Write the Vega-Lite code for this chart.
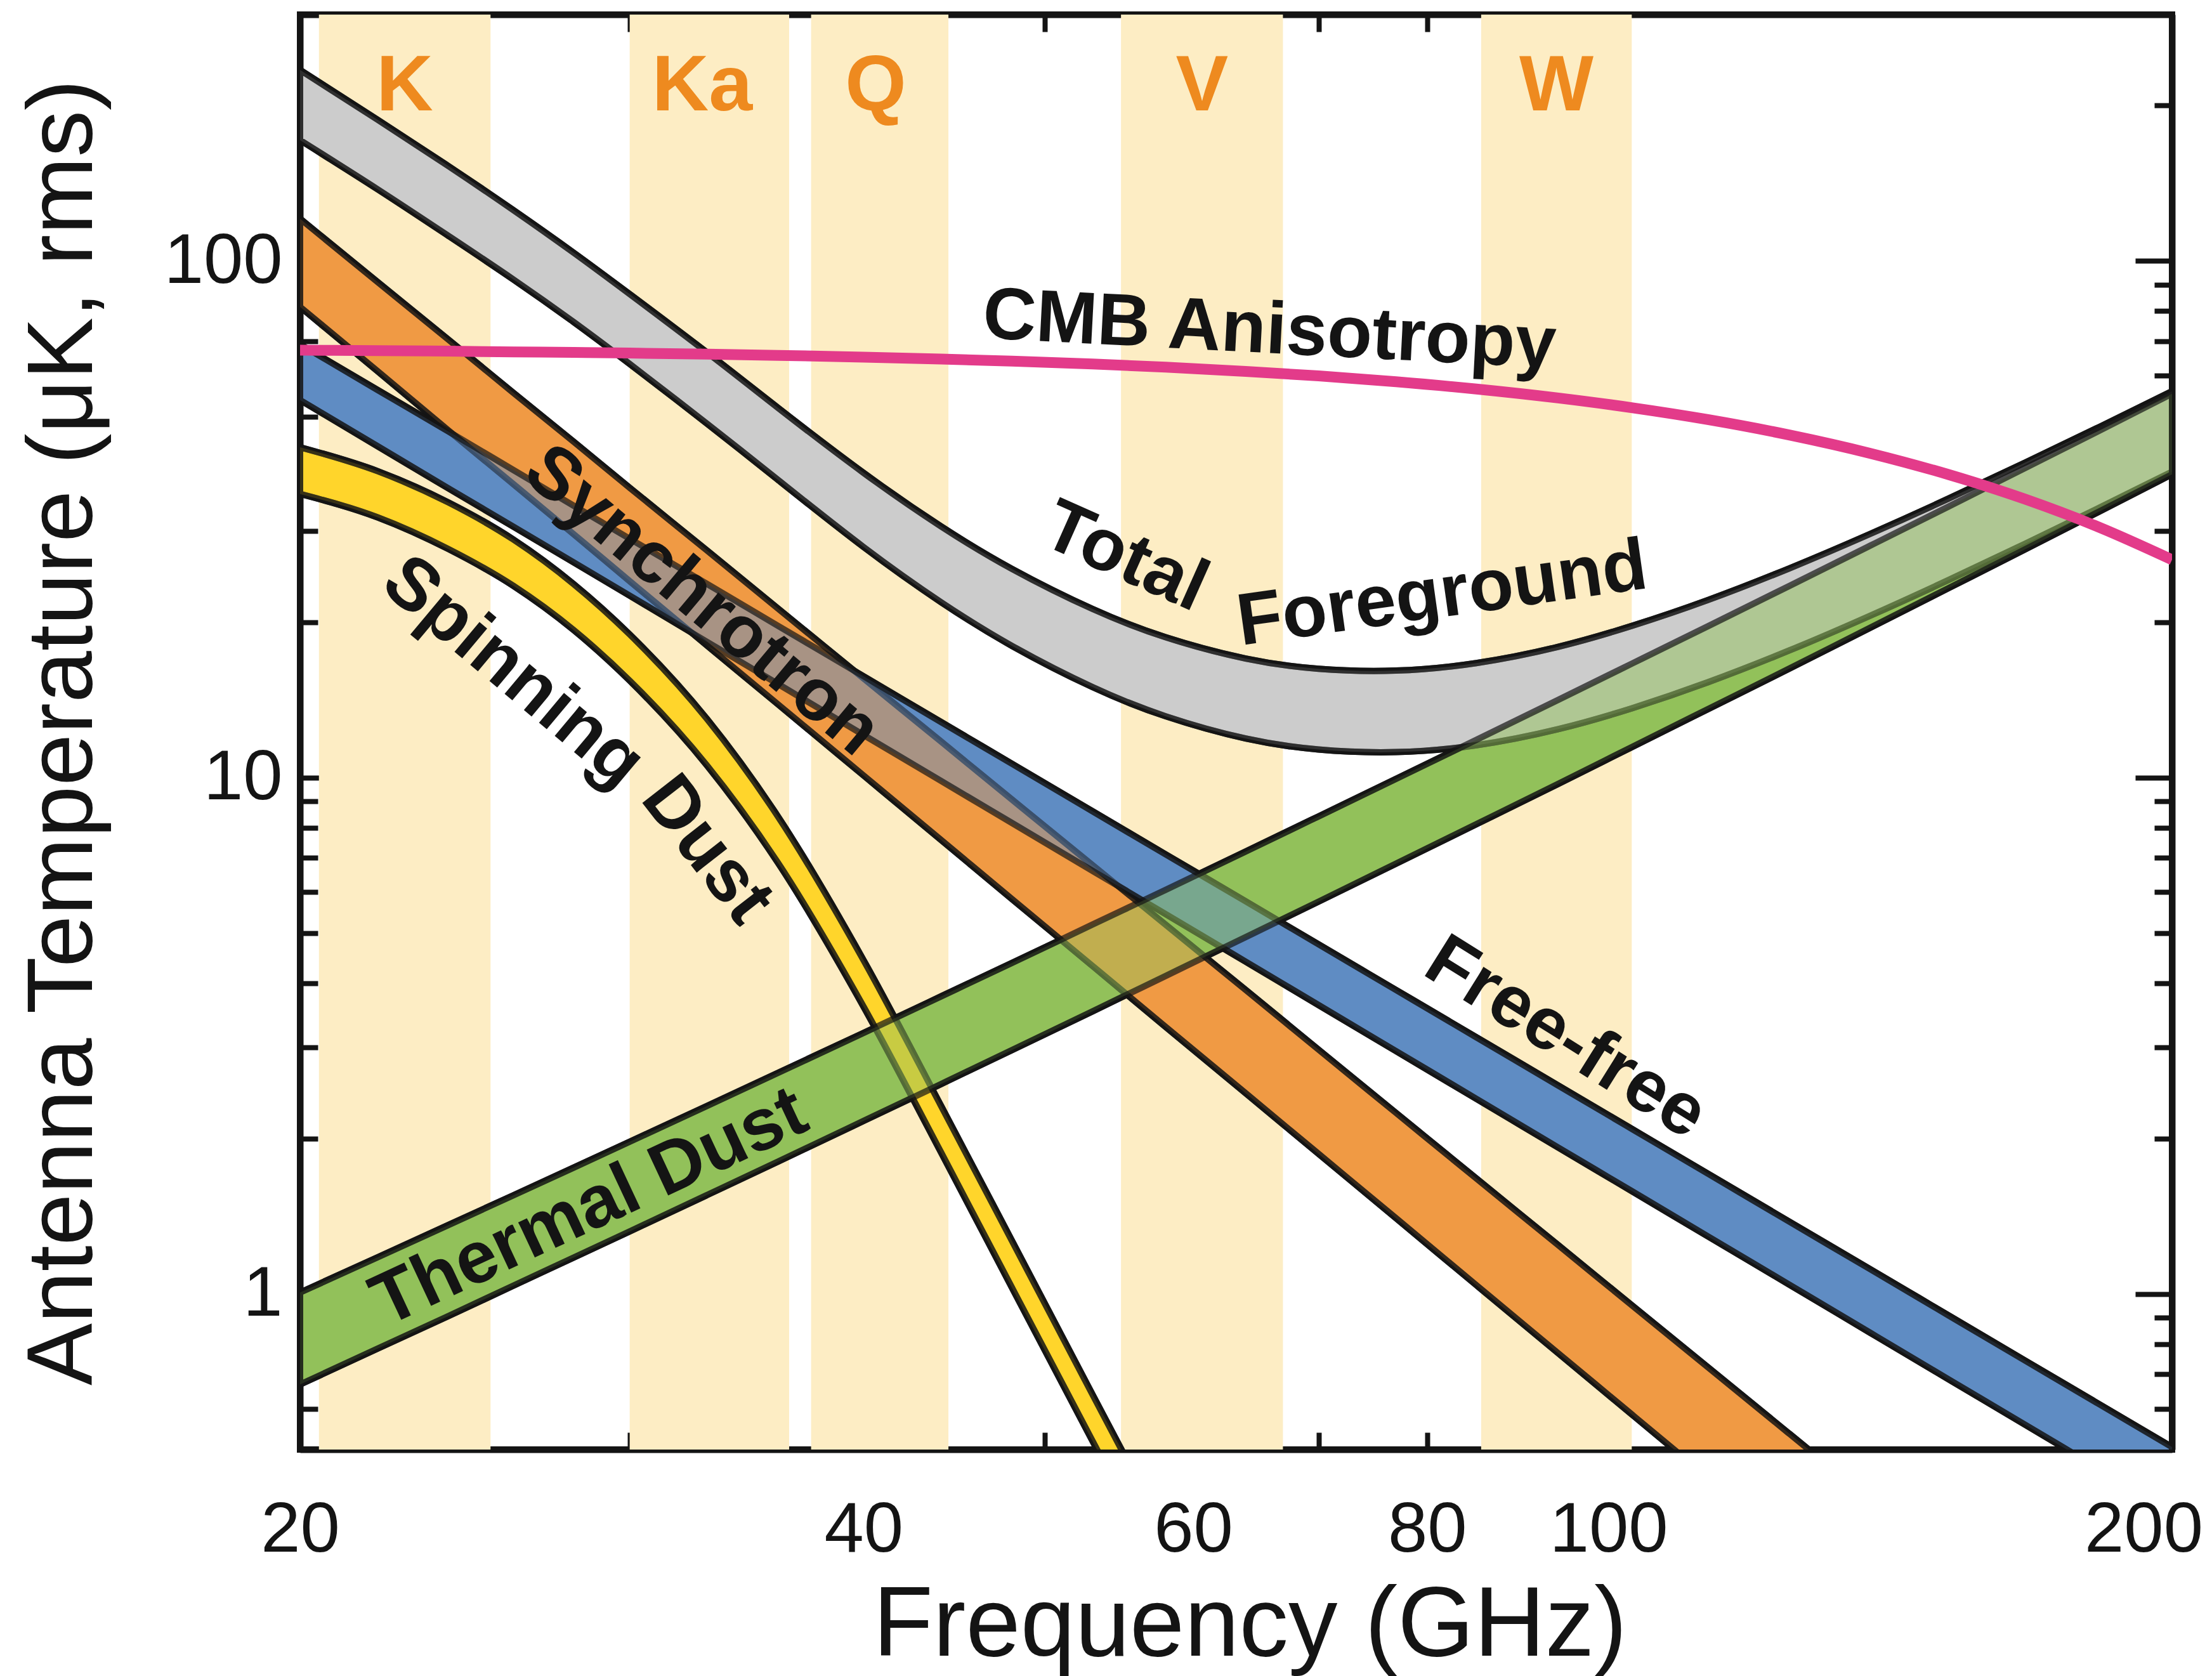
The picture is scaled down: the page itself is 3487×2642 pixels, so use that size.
{
  "$schema": "https://vega.github.io/schema/vega-lite/v6.json",
  "autosize": {"type": "none"},
  "width": 2951,
  "height": 2262,
  "padding": {"left": 473, "top": 23, "right": 63, "bottom": 357},
  "background": "white",
  "config": {
    "font": "Liberation Sans",
    "view": {"stroke": "#141414", "strokeWidth": 10},
    "axis": {
      "zindex": 1,
      "grid": false,
      "domainColor": "#141414",
      "domainWidth": 10,
      "tickColor": "#141414",
      "tickWidth": 8,
      "labelFont": "Liberation Sans",
      "labelFontSize": 112,
      "labelColor": "#141414",
      "labelOverlap": false,
      "labelFlush": false,
      "labelBound": false,
      "labelLimit": 2000,
      "titleFont": "Liberation Sans",
      "titleFontSize": 155,
      "titleFontWeight": "normal",
      "titleColor": "#141414",
      "titleLimit": 5000
    }
  },
  "datasets": {
    "curves": [
      {"f":20,"td_lo":0.668,"td_hi":1.007,"ff_lo":53.8,"ff_hi":69.0,"syn_lo":81.5,"syn_hi":120.8,"sd_lo":35.4,"sd_hi":43.6,"tot_lo":171.4,"tot_hi":234.4,"cmb":67.2},
      {"f":22,"td_lo":0.784,"td_hi":1.178,"ff_lo":43.8,"ff_hi":56.3,"syn_lo":61.2,"syn_hi":91.1,"sd_lo":31.9,"sd_hi":39.2,"tot_lo":137.7,"tot_hi":187.8,"cmb":67.06},
      {"f":24,"td_lo":0.906,"td_hi":1.36,"ff_lo":36.3,"ff_hi":46.8,"syn_lo":47.0,"syn_hi":70.5,"sd_lo":27.7,"sd_hi":34.1,"tot_lo":111.9,"tot_hi":152.8,"cmb":66.9},
      {"f":26,"td_lo":1.038,"td_hi":1.553,"ff_lo":30.6,"ff_hi":39.4,"syn_lo":37.0,"syn_hi":55.6,"sd_lo":23.5,"sd_hi":28.9,"tot_lo":92.1,"tot_hi":125.5,"cmb":66.7},
      {"f":28,"td_lo":1.176,"td_hi":1.757,"ff_lo":26.1,"ff_hi":33.6,"syn_lo":29.6,"syn_hi":44.7,"sd_lo":19.3,"sd_hi":23.7,"tot_lo":76.2,"tot_hi":103.8,"cmb":66.54},
      {"f":30,"td_lo":1.322,"td_hi":1.972,"ff_lo":22.5,"ff_hi":29.0,"syn_lo":24.0,"syn_hi":36.4,"sd_lo":15.4,"sd_hi":18.93,"tot_lo":63.2,"tot_hi":86.3,"cmb":66.34},
      {"f":33,"td_lo":1.555,"td_hi":2.314,"ff_lo":18.3,"ff_hi":23.7,"syn_lo":18.0,"syn_hi":27.5,"sd_lo":10.54,"sd_hi":12.97,"tot_lo":48.4,"tot_hi":66.5,"cmb":66.02},
      {"f":36,"td_lo":1.804,"td_hi":2.68,"ff_lo":15.18,"ff_hi":19.67,"syn_lo":13.86,"syn_hi":21.25,"sd_lo":6.84,"sd_hi":8.41,"tot_lo":37.7,"tot_hi":52.0,"cmb":65.67},
      {"f":40,"td_lo":2.163,"td_hi":3.204,"ff_lo":12.09,"ff_hi":15.71,"syn_lo":10.09,"syn_hi":15.56,"sd_lo":3.6,"sd_hi":4.43,"tot_lo":27.94,"tot_hi":38.9,"cmb":65.16},
      {"f":44,"td_lo":2.55,"td_hi":3.77,"ff_lo":9.85,"ff_hi":12.81,"syn_lo":7.57,"syn_hi":11.74,"sd_lo":1.88,"sd_hi":2.315,"tot_lo":21.85,"tot_hi":30.64,"cmb":64.6},
      {"f":48,"td_lo":2.965,"td_hi":4.375,"ff_lo":8.17,"ff_hi":10.64,"syn_lo":5.82,"syn_hi":9.07,"sd_lo":1.03,"sd_hi":1.27,"tot_lo":17.99,"tot_hi":25.36,"cmb":64.0},
      {"f":53,"td_lo":3.525,"td_hi":5.19,"ff_lo":6.6,"ff_hi":8.61,"syn_lo":4.32,"syn_hi":6.77,"sd_lo":0.52,"sd_hi":0.64,"tot_lo":14.97,"tot_hi":21.21,"cmb":63.18},
      {"f":58,"td_lo":4.13,"td_hi":6.06,"ff_lo":5.44,"ff_hi":7.1,"syn_lo":3.29,"syn_hi":5.19,"sd_lo":0.28,"sd_hi":0.344,"tot_lo":13.14,"tot_hi":18.69,"cmb":62.29},
      {"f":64,"td_lo":4.91,"td_hi":7.19,"ff_lo":4.4,"ff_hi":5.76,"syn_lo":2.447,"syn_hi":3.88,"sd_lo":0.141,"sd_hi":0.174,"tot_lo":11.9,"tot_hi":17.0,"cmb":61.15},
      {"f":70,"td_lo":5.75,"td_hi":8.41,"ff_lo":3.626,"ff_hi":4.755,"syn_lo":1.868,"syn_hi":2.974,"sd_lo":0.076,"sd_hi":0.094,"tot_lo":11.33,"tot_hi":16.24,"cmb":59.92},
      {"f":77,"td_lo":6.81,"td_hi":9.94,"ff_lo":2.953,"ff_hi":3.88,"syn_lo":1.402,"syn_hi":2.243,"tot_lo":11.2,"tot_hi":16.11,"cmb":58.38},
      {"f":85,"td_lo":8.12,"td_hi":11.83,"ff_lo":2.387,"ff_hi":3.142,"syn_lo":1.04,"syn_hi":1.674,"tot_lo":11.55,"tot_hi":16.66,"cmb":56.52},
      {"f":94,"td_lo":9.72,"td_hi":14.14,"ff_lo":1.921,"ff_hi":2.534,"syn_lo":0.768,"syn_hi":1.244,"tot_lo":12.41,"tot_hi":17.91,"cmb":54.3},
      {"f":103,"td_lo":11.47,"td_hi":16.64,"ff_lo":1.579,"ff_hi":2.085,"syn_lo":0.583,"syn_hi":0.949,"tot_lo":13.63,"tot_hi":19.68,"cmb":51.98},
      {"f":113,"td_lo":13.56,"td_hi":19.63,"ff_lo":1.293,"ff_hi":1.711,"syn_lo":0.441,"syn_hi":0.722,"tot_lo":15.29,"tot_hi":22.06,"cmb":49.32},
      {"f":125,"td_lo":16.27,"td_hi":23.52,"ff_lo":1.041,"ff_hi":1.379,"syn_lo":0.3255,"syn_hi":0.5356,"tot_lo":17.64,"tot_hi":25.44,"cmb":46.03},
      {"f":138,"td_lo":19.5,"td_hi":28.12,"ff_lo":0.841,"ff_hi":1.117,"syn_lo":0.2415,"syn_hi":0.3995,"tot_lo":20.58,"tot_hi":29.64,"cmb":42.43},
      {"f":152,"td_lo":23.28,"td_hi":33.5,"ff_lo":0.683,"ff_hi":0.9085,"syn_lo":0.1805,"syn_hi":0.3003,"tot_lo":24.14,"tot_hi":34.71,"cmb":38.58},
      {"f":167,"td_lo":27.67,"td_hi":39.78,"ff_lo":0.558,"ff_hi":0.743,"syn_lo":0.1359,"syn_hi":0.2274,"tot_lo":28.37,"tot_hi":40.75,"cmb":34.57},
      {"f":183,"td_lo":32.77,"td_hi":46.99,"ff_lo":0.458,"ff_hi":0.6112,"syn_lo":0.1032,"syn_hi":0.1734,"tot_lo":33.33,"tot_hi":47.77,"cmb":30.48},
      {"f":200,"td_lo":38.64,"td_hi":55.34,"ff_lo":0.3784,"ff_hi":0.5056,"syn_lo":0.0789,"syn_hi":0.1334,"tot_lo":39.1,"tot_hi":55.98,"cmb":26.41}
    ],
    "bands": [
      {"band":"K","f0":20.47,"f1":25.28,"fc":22.75},
      {"band":"Ka","f0":30.0,"f1":36.5,"fc":32.8},
      {"band":"Q","f0":37.5,"f1":44.4,"fc":40.6},
      {"band":"V","f0":54.9,"f1":67.0,"fc":60.65},
      {"band":"W","f0":85.5,"f1":102.9,"fc":93.8}
    ],
    "labels": [
      {"id":"cmb","text":"CMB Anisotropy","f":65.9,"t":73.3},
      {"id":"total","text":"Total","f":55.2,"t":26.7},
      {"id":"fg","text":"Foreground","f":81.5,"t":22.6},
      {"id":"syn","text":"Synchrotron","f":32.8,"t":22.0},
      {"id":"spin","text":"Spinning","f":26.0,"t":16.0},
      {"id":"spindust","text":"Dust","f":33.0,"t":7.24},
      {"id":"ff","text":"Free-free","f":94.9,"t":3.13},
      {"id":"td","text":"Thermal Dust","f":28.55,"t":1.47}
    ]
  },
  "resolve": {"axis": {"x": "independent", "y": "independent"}},
  "layer": [
    {
      "data": {"name": "bands"},
      "mark": {"type": "rect", "fill": "#FDEDC4"},
      "encoding": {
        "x": {"field": "f0", "type": "quantitative", "scale": {"type": "log", "domain": [20, 200], "nice": false}, "axis": null},
        "x2": {"field": "f1"}
      }
    },
    {
      "data": {"name": "curves"},
      "mark": {"type": "area", "clip": true, "interpolate": "monotone", "fill": "#92C15A", "stroke": "#141414", "strokeWidth": 10, "strokeJoin": "round"},
      "encoding": {
        "x": {"field": "f", "type": "quantitative", "scale": {"type": "log", "domain": [20, 200], "nice": false},
          "axis": {"orient": "bottom", "values": [20, 30, 40, 50, 60, 70, 80, 90, 100, 200],
            "labelExpr": "(datum.value == 30 || datum.value == 50 || datum.value == 70 || datum.value == 90) ? '' : '' + datum.value",
            "tickSize": {"condition": {"test": "datum.value == 100", "value": -56}, "value": -27},
            "labelPadding": {"condition": {"test": "datum.value == 100", "value": 128}, "value": 99},
            "labelOffset": {"condition": {"test": "datum.value == 200", "value": -45}, "value": 0},
            "title": "Frequency (GHz)", "titlePadding": 20, "titleX": 1497}},
        "y": {"field": "td_hi", "type": "quantitative", "scale": {"type": "log", "domain": [0.5, 300], "nice": false},
          "axis": {"orient": "left", "values": [0.5, 0.6, 0.7, 0.8, 0.9, 1, 2, 3, 4, 5, 6, 7, 8, 9, 10, 20, 30, 40, 50, 60, 70, 80, 90, 100, 200],
            "labelExpr": "datum.value == 1 ? '1' : datum.value == 10 ? '10' : datum.value == 100 ? '100' : ''",
            "tickSize": {"condition": {"test": "datum.value == 1 || datum.value == 10 || datum.value == 100", "value": -58}, "value": -28},
            "labelPadding": 86,
            "title": "Antenna Temperature (μK, rms)", "titleFontSize": 147, "titlePadding": 98}},
        "y2": {"field": "td_lo"}
      }
    },
    {
      "data": {"name": "curves"},
      "mark": {"type": "area", "clip": true, "interpolate": "monotone", "fill": "#5F8CC3", "stroke": "#141414", "strokeWidth": 10, "strokeJoin": "round"},
      "encoding": {
        "x": {"field": "f", "type": "quantitative", "scale": {"type": "log", "domain": [20, 200], "nice": false},
          "axis": {"orient": "top", "values": [20, 30, 40, 50, 60, 70, 80, 90, 100, 200], "labels": false, "title": null,
            "tickSize": {"condition": {"test": "datum.value == 100", "value": -56}, "value": -27}}},
        "y": {"field": "ff_hi", "type": "quantitative", "scale": {"type": "log", "domain": [0.5, 300], "nice": false},
          "axis": {"orient": "right", "values": [0.5, 0.6, 0.7, 0.8, 0.9, 1, 2, 3, 4, 5, 6, 7, 8, 9, 10, 20, 30, 40, 50, 60, 70, 80, 90, 100, 200], "labels": false, "title": null,
            "tickSize": {"condition": {"test": "datum.value == 1 || datum.value == 10 || datum.value == 100", "value": -58}, "value": -28}}},
        "y2": {"field": "ff_lo"}
      }
    },
    {
      "data": {"name": "curves"},
      "mark": {"type": "area", "clip": true, "interpolate": "monotone", "fill": "#F09A44", "stroke": "#141414", "strokeWidth": 10, "strokeJoin": "round"},
      "encoding": {
        "x": {"field": "f", "type": "quantitative", "scale": {"type": "log", "domain": [20, 200], "nice": false}, "axis": null},
        "y": {"field": "syn_hi", "type": "quantitative", "scale": {"type": "log", "domain": [0.5, 300], "nice": false}, "axis": null},
        "y2": {"field": "syn_lo"}
      }
    },
    {
      "data": {"name": "curves"},
      "mark": {"type": "area", "clip": true, "interpolate": "monotone", "fill": "#FFD52B", "stroke": "#141414", "strokeWidth": 10, "strokeJoin": "round"},
      "encoding": {
        "x": {"field": "f", "type": "quantitative", "scale": {"type": "log", "domain": [20, 200], "nice": false}, "axis": null},
        "y": {"field": "sd_hi", "type": "quantitative", "scale": {"type": "log", "domain": [0.5, 300], "nice": false}, "axis": null},
        "y2": {"field": "sd_lo"}
      }
    },
    {
      "data": {"name": "curves"},
      "mark": {"type": "area", "clip": true, "interpolate": "natural", "fill": "#CCCCCC", "stroke": "#141414", "strokeWidth": 10, "strokeJoin": "round"},
      "encoding": {
        "x": {"field": "f", "type": "quantitative", "scale": {"type": "log", "domain": [20, 200], "nice": false}, "axis": null},
        "y": {"field": "tot_hi", "type": "quantitative", "scale": {"type": "log", "domain": [0.5, 300], "nice": false}, "axis": null},
        "y2": {"field": "tot_lo"}
      }
    },
    {
      "data": {"name": "curves"},
      "mark": {"type": "area", "clip": true, "interpolate": "natural", "fill": "#CCCCCC", "fillOpacity": 0.5, "stroke": "#141414", "strokeOpacity": 0.7, "strokeWidth": 10, "strokeJoin": "round"},
      "encoding": {
        "x": {"field": "f", "type": "quantitative", "scale": {"type": "log", "domain": [20, 200], "nice": false}, "axis": null},
        "y": {"field": "tot_hi", "type": "quantitative", "scale": {"type": "log", "domain": [0.5, 300], "nice": false}, "axis": null},
        "y2": {"field": "tot_lo"}
      }
    },
    {
      "data": {"name": "curves"},
      "mark": {"type": "area", "clip": true, "interpolate": "monotone", "fill": "#FFD52B", "fillOpacity": 0.5, "stroke": "#141414", "strokeOpacity": 0.7, "strokeWidth": 10, "strokeJoin": "round"},
      "encoding": {
        "x": {"field": "f", "type": "quantitative", "scale": {"type": "log", "domain": [20, 200], "nice": false}, "axis": null},
        "y": {"field": "sd_hi", "type": "quantitative", "scale": {"type": "log", "domain": [0.5, 300], "nice": false}, "axis": null},
        "y2": {"field": "sd_lo"}
      }
    },
    {
      "data": {"name": "curves"},
      "mark": {"type": "area", "clip": true, "interpolate": "monotone", "fill": "#F09A44", "fillOpacity": 0.5, "stroke": "#141414", "strokeOpacity": 0.7, "strokeWidth": 10, "strokeJoin": "round"},
      "encoding": {
        "x": {"field": "f", "type": "quantitative", "scale": {"type": "log", "domain": [20, 200], "nice": false}, "axis": null},
        "y": {"field": "syn_hi", "type": "quantitative", "scale": {"type": "log", "domain": [0.5, 300], "nice": false}, "axis": null},
        "y2": {"field": "syn_lo"}
      }
    },
    {
      "data": {"name": "curves"},
      "mark": {"type": "area", "clip": true, "interpolate": "monotone", "fill": "#5F8CC3", "fillOpacity": 0.5, "stroke": "#141414", "strokeOpacity": 0.7, "strokeWidth": 10, "strokeJoin": "round"},
      "encoding": {
        "x": {"field": "f", "type": "quantitative", "scale": {"type": "log", "domain": [20, 200], "nice": false}, "axis": null},
        "y": {"field": "ff_hi", "type": "quantitative", "scale": {"type": "log", "domain": [0.5, 300], "nice": false}, "axis": null},
        "y2": {"field": "ff_lo"}
      }
    },
    {
      "data": {"name": "curves"},
      "mark": {"type": "area", "clip": true, "interpolate": "monotone", "fill": "#92C15A", "fillOpacity": 0.5, "stroke": "#141414", "strokeOpacity": 0.7, "strokeWidth": 10, "strokeJoin": "round"},
      "encoding": {
        "x": {"field": "f", "type": "quantitative", "scale": {"type": "log", "domain": [20, 200], "nice": false}, "axis": null},
        "y": {"field": "td_hi", "type": "quantitative", "scale": {"type": "log", "domain": [0.5, 300], "nice": false}, "axis": null},
        "y2": {"field": "td_lo"}
      }
    },
    {
      "data": {"name": "curves"},
      "mark": {"type": "line", "clip": true, "interpolate": "monotone", "color": "#E33B8A", "strokeWidth": 17},
      "encoding": {
        "x": {"field": "f", "type": "quantitative", "scale": {"type": "log", "domain": [20, 200], "nice": false}, "axis": null},
        "y": {"field": "cmb", "type": "quantitative", "scale": {"type": "log", "domain": [0.5, 300], "nice": false}, "axis": null}
      }
    },
    {
      "data": {"name": "bands"},
      "mark": {"type": "text", "font": "Liberation Sans", "fontWeight": "bold", "fontSize": 124, "color": "#EE8A1F", "align": "center", "baseline": "alphabetic"},
      "encoding": {
        "x": {"field": "fc", "type": "quantitative", "scale": {"type": "log", "domain": [20, 200], "nice": false}, "axis": null},
        "y": {"datum": 196, "type": "quantitative", "scale": {"type": "log", "domain": [0.5, 300], "nice": false}, "axis": null},
        "text": {"field": "band"}
      }
    },
    {
      "data": {"name": "labels"},
      "transform": [{"filter": "datum.id == 'cmb'"}],
      "mark": {"type": "text", "font": "Liberation Sans", "fontWeight": "bold", "fontSize": 116, "color": "#141414", "align": "center", "baseline": "middle", "angle": 3},
      "encoding": {
        "x": {"field": "f", "type": "quantitative", "scale": {"type": "log", "domain": [20, 200], "nice": false}, "axis": null},
        "y": {"field": "t", "type": "quantitative", "scale": {"type": "log", "domain": [0.5, 300], "nice": false}, "axis": null},
        "text": {"field": "text"}
      }
    },
    {
      "data": {"name": "labels"},
      "transform": [{"filter": "datum.id == 'total'"}],
      "mark": {"type": "text", "font": "Liberation Sans", "fontWeight": "bold", "fontSize": 116, "color": "#141414", "align": "center", "baseline": "middle", "angle": 24},
      "encoding": {
        "x": {"field": "f", "type": "quantitative", "scale": {"type": "log", "domain": [20, 200], "nice": false}, "axis": null},
        "y": {"field": "t", "type": "quantitative", "scale": {"type": "log", "domain": [0.5, 300], "nice": false}, "axis": null},
        "text": {"field": "text"}
      }
    },
    {
      "data": {"name": "labels"},
      "transform": [{"filter": "datum.id == 'fg'"}],
      "mark": {"type": "text", "font": "Liberation Sans", "fontWeight": "bold", "fontSize": 116, "color": "#141414", "align": "center", "baseline": "middle", "angle": -8},
      "encoding": {
        "x": {"field": "f", "type": "quantitative", "scale": {"type": "log", "domain": [20, 200], "nice": false}, "axis": null},
        "y": {"field": "t", "type": "quantitative", "scale": {"type": "log", "domain": [0.5, 300], "nice": false}, "axis": null},
        "text": {"field": "text"}
      }
    },
    {
      "data": {"name": "labels"},
      "transform": [{"filter": "datum.id == 'syn'"}],
      "mark": {"type": "text", "font": "Liberation Sans", "fontWeight": "bold", "fontSize": 116, "color": "#141414", "align": "center", "baseline": "middle", "angle": 40},
      "encoding": {
        "x": {"field": "f", "type": "quantitative", "scale": {"type": "log", "domain": [20, 200], "nice": false}, "axis": null},
        "y": {"field": "t", "type": "quantitative", "scale": {"type": "log", "domain": [0.5, 300], "nice": false}, "axis": null},
        "text": {"field": "text"}
      }
    },
    {
      "data": {"name": "labels"},
      "transform": [{"filter": "datum.id == 'spin'"}],
      "mark": {"type": "text", "font": "Liberation Sans", "fontWeight": "bold", "fontSize": 116, "color": "#141414", "align": "center", "baseline": "middle", "angle": 40},
      "encoding": {
        "x": {"field": "f", "type": "quantitative", "scale": {"type": "log", "domain": [20, 200], "nice": false}, "axis": null},
        "y": {"field": "t", "type": "quantitative", "scale": {"type": "log", "domain": [0.5, 300], "nice": false}, "axis": null},
        "text": {"field": "text"}
      }
    },
    {
      "data": {"name": "labels"},
      "transform": [{"filter": "datum.id == 'spindust'"}],
      "mark": {"type": "text", "font": "Liberation Sans", "fontWeight": "bold", "fontSize": 116, "color": "#141414", "align": "center", "baseline": "middle", "angle": 52},
      "encoding": {
        "x": {"field": "f", "type": "quantitative", "scale": {"type": "log", "domain": [20, 200], "nice": false}, "axis": null},
        "y": {"field": "t", "type": "quantitative", "scale": {"type": "log", "domain": [0.5, 300], "nice": false}, "axis": null},
        "text": {"field": "text"}
      }
    },
    {
      "data": {"name": "labels"},
      "transform": [{"filter": "datum.id == 'ff'"}],
      "mark": {"type": "text", "font": "Liberation Sans", "fontWeight": "bold", "fontSize": 116, "color": "#141414", "align": "center", "baseline": "middle", "angle": 32},
      "encoding": {
        "x": {"field": "f", "type": "quantitative", "scale": {"type": "log", "domain": [20, 200], "nice": false}, "axis": null},
        "y": {"field": "t", "type": "quantitative", "scale": {"type": "log", "domain": [0.5, 300], "nice": false}, "axis": null},
        "text": {"field": "text"}
      }
    },
    {
      "data": {"name": "labels"},
      "transform": [{"filter": "datum.id == 'td'"}],
      "mark": {"type": "text", "font": "Liberation Sans", "fontWeight": "bold", "fontSize": 116, "color": "#141414", "align": "center", "baseline": "middle", "angle": -25},
      "encoding": {
        "x": {"field": "f", "type": "quantitative", "scale": {"type": "log", "domain": [20, 200], "nice": false}, "axis": null},
        "y": {"field": "t", "type": "quantitative", "scale": {"type": "log", "domain": [0.5, 300], "nice": false}, "axis": null},
        "text": {"field": "text"}
      }
    }
  ]
}
